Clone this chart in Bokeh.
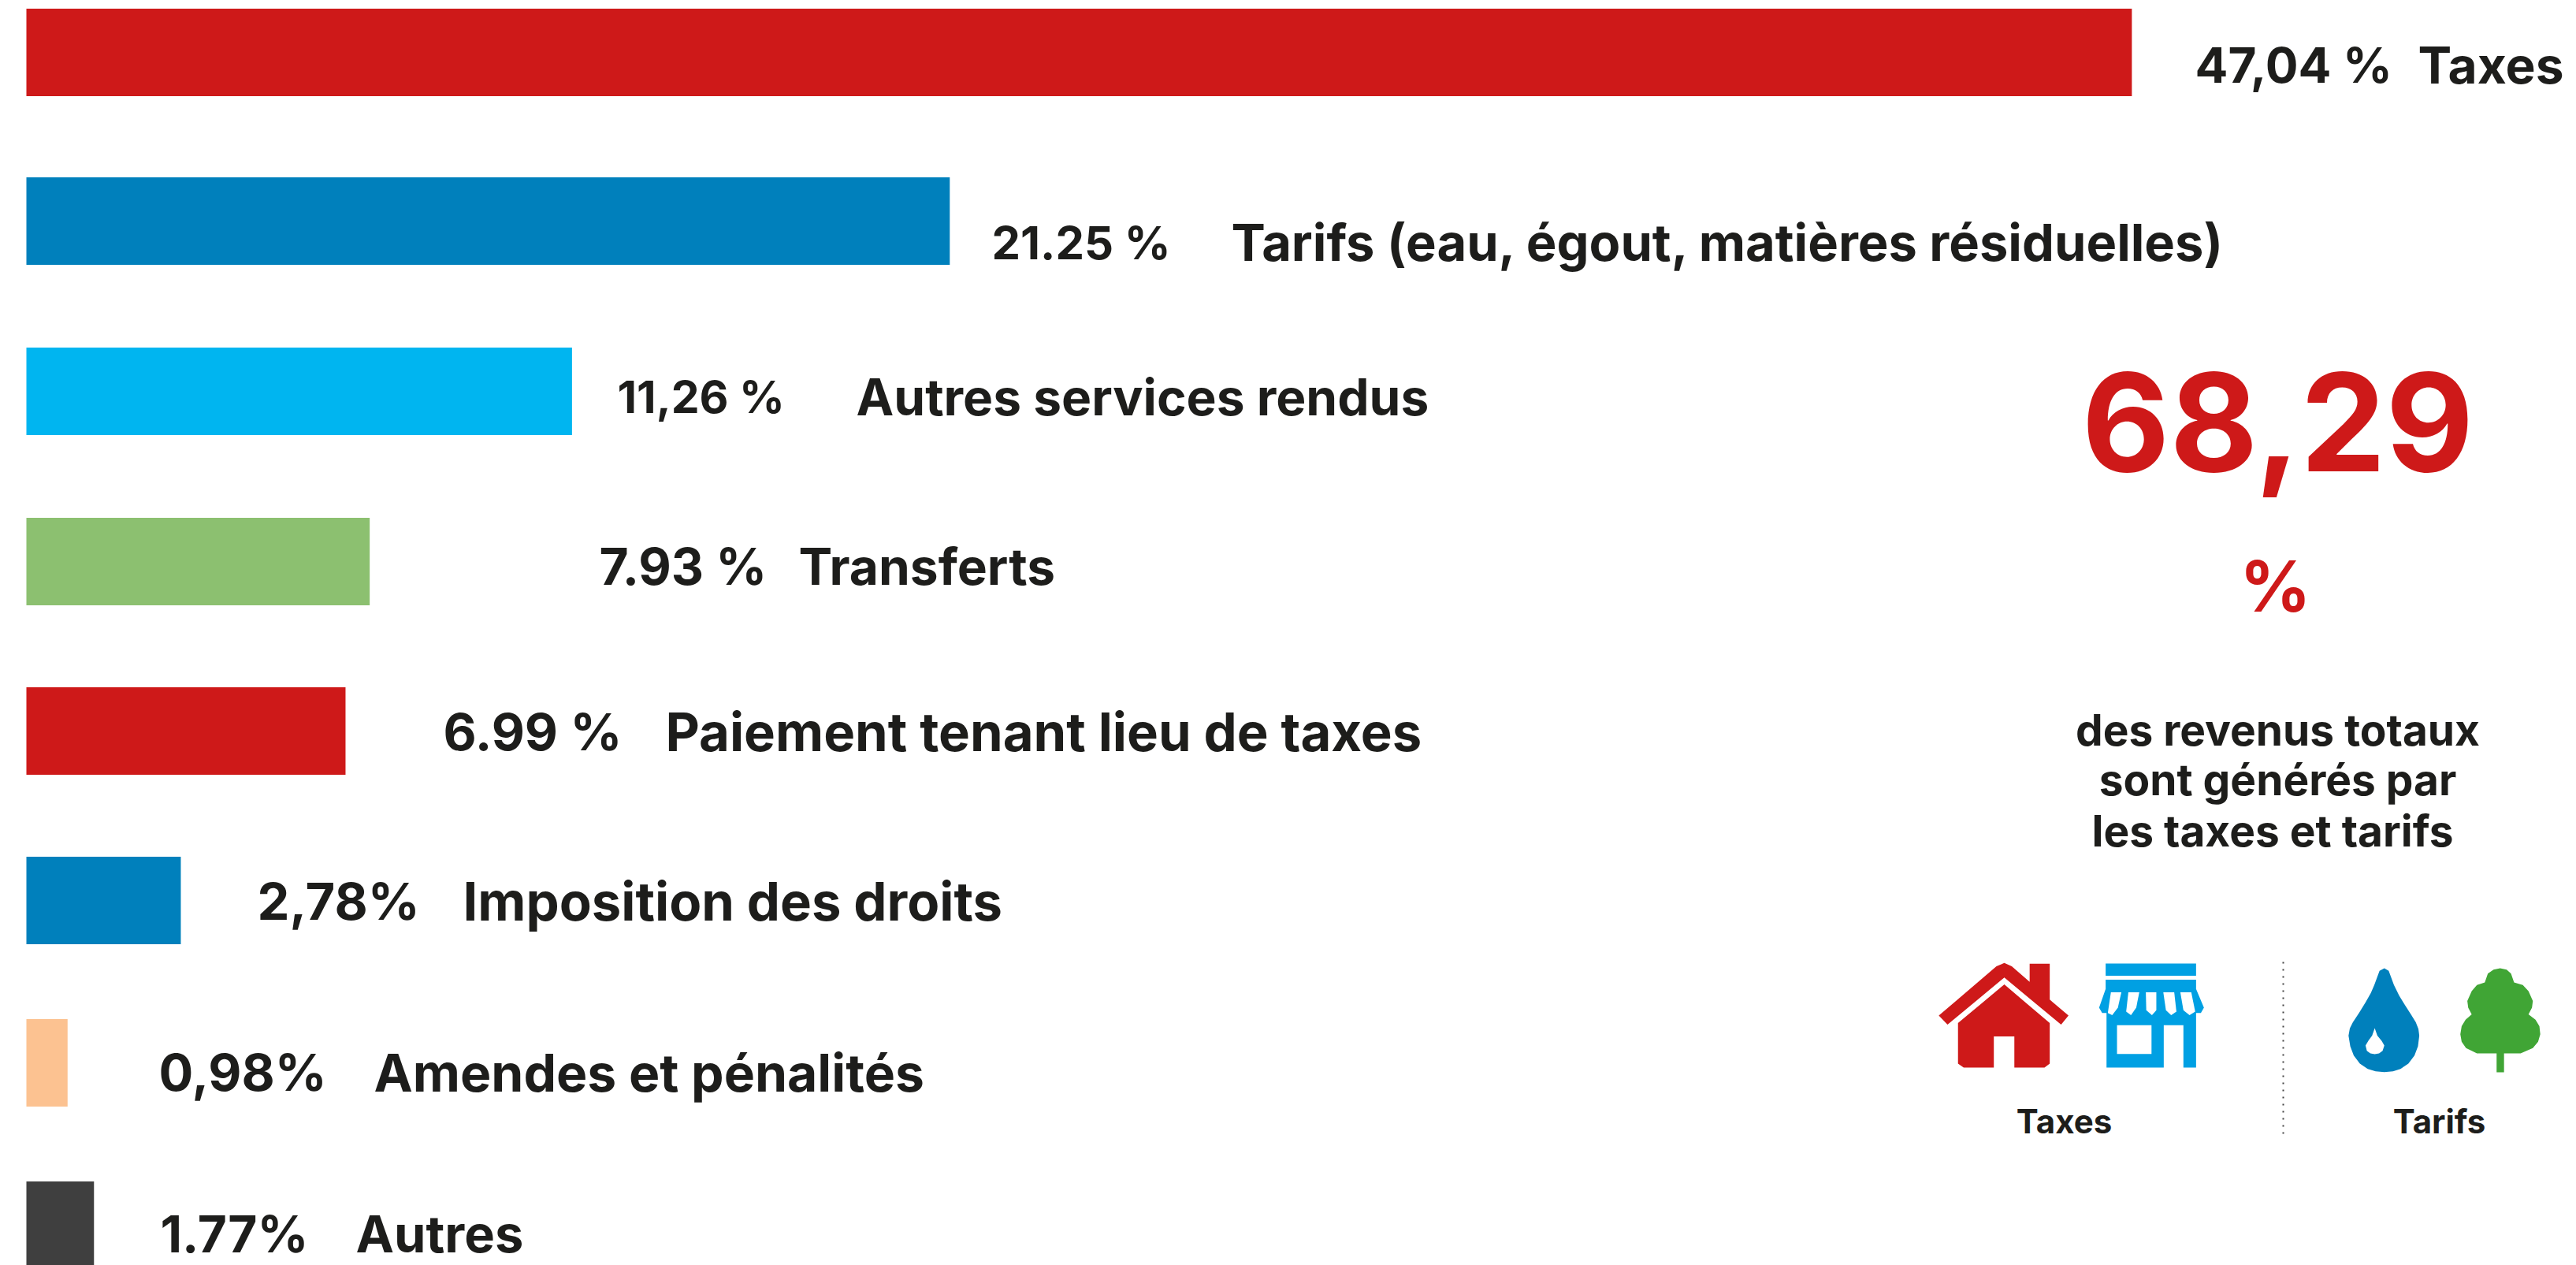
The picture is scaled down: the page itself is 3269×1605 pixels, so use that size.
from bokeh.plotting import figure
from bokeh.models import Range1d, ColumnDataSource
from bokeh.core.properties import value
from bokeh.embed import file_html
from bokeh.resources import INLINE

categories = ["Taxes", "Tarifs (eau, égout, matières résiduelles)", "Autres services rendus", "Transferts",
              "Paiement tenant lieu de taxes", "Imposition des droits", "Amendes et pénalités", "Autres"]
value_labels = ["47,04 %", "21.25 %", "11,26 %", "7.93 %", "6.99 %", "2,78%", "0,98%", "1.77%"]
# bar lengths as drawn in the picture (percent units of the longest bar)
bar_lengths = [47.04, 20.63, 12.19, 7.67, 7.13, 3.45, 0.92, 1.51]
bar_colors = ["#CE1919", "#0080BC", "#00B5F0", "#8CC070", "#CE1919", "#0080BC", "#FCC291", "#3F3F3F"]

row_y = [66, 280, 496, 712, 927, 1142, 1348, 1554]
text_y = [82, 307, 503, 718, 928, 1143, 1360, 1565]
value_x = [2785, 1258, 783, 760, 562, 326, 201, 203]
label_x = [3068, 1562, 1086, 1013, 844, 587, 474, 451]
value_size = [62, 58, 57, 64, 65, 65, 65, 64]
label_size = [64, 65, 64, 64, 67, 67, 66, 65]
FONT = "Inter"
INK = "#1D1D1B"
RED = "#CE1919"

W, H = 3269, 1605
p = figure(width=W, height=H, output_backend="svg", toolbar_location=None,
           x_range=Range1d(-33 / 56.8, (W - 33) / 56.8), y_range=Range1d(H, 0),
           min_border=0, outline_line_color=None, x_axis_location=None, y_axis_location=None)
p.grid.visible = False
p.extra_x_ranges = {"px": Range1d(0, W)}

src = ColumnDataSource(dict(y=row_y, right=bar_lengths, color=bar_colors))
p.hbar(y="y", left=0, right="right", height=111, fill_color="color", line_color=None, source=src)

def txt(x, y, s, size, color=INK, align="left"):
    p.text(x=[x], y=[y], text=[s], x_range_name="px", text_font=value(FONT), text_font_style="bold",
           text_font_size=f"{size}px", text_color=color, text_align=align, text_baseline="middle")

for i, c in enumerate(categories):
    txt(value_x[i], text_y[i], value_labels[i], value_size[i])
    txt(label_x[i], text_y[i], c, label_size[i])

txt(2890, 535, "68,29", 172, RED, "center")
txt(2887, 743, "%", 89, RED, "center")
txt(2890, 925, "des revenus totaux", 55, INK, "center")
txt(2890, 988, "sont générés par", 55, INK, "center")
txt(2890, 1053, "les  taxes et tarifs", 55, INK, "center")
txt(2619, 1422, "Taxes", 42, INK, "center")
txt(3095, 1422, "Tarifs", 42, INK, "center")

p.line([2897, 2897], [1220, 1438], x_range_name="px", line_color="#444444", line_width=2, line_dash="2 7")

def ipx(pts):
    return [2400 + a / 1.804 for a, _ in pts], [1180 + b / 2.96 for _, b in pts]

def poly(pts, color):
    xs, ys = ipx(pts)
    p.patch(xs, ys, x_range_name="px", fill_color=color, line_color=None)

poly([(258,122),(275,135),(316,193),(316,125),(362,125),(362,260),(405,320),(388,354),(258,177),(128,354),(108,320),(240,135)], RED)
poly([(258,203),(362,348),(362,500),(350,515),(281,515),(281,398),(234,398),(234,515),(165,515),(152,500),(152,348)], RED)

SHOP = "#00A0E3"
poly([(490,124),(697,124),(697,170),(490,170)], SHOP)
poly([(490,185),(697,185),(697,220),(715,290),(708,310),(697,310),(697,515),(668,515),(668,356),(623,356),(623,515),(492,515),(492,310),(482,310),(475,290),(490,220)], SHOP)
poly([(516,356),(595,356),(595,464),(516,464)], "white")
poly([(502,232),(526,232),(518,290),(505,318),(495,310)], "white")
poly([(542,232),(567,232),(560,290),(548,318),(537,305)], "white")
poly([(582,232),(606,232),(606,300),(596,318),(583,300)], "white")
poly([(622,232),(647,232),(652,305),(640,318),(628,300)], "white")
poly([(661,232),(686,232),(695,305),(682,318),(668,300)], "white")

poly([(1128,142),(1138,152),(1150,205),(1162,245),(1175,280),(1190,318),(1200,345),(1206,370),(1208,395),(1205,435),(1197,470),(1183,500),(1165,520),(1148,529),(1128,532),(1108,529),(1090,520),(1072,500),(1058,470),(1050,435),(1046,395),(1049,368),(1056,345),(1070,310),(1085,270),(1097,235),(1105,205),(1117,152)], "#0080BC")
poly([(1106,367),(1112,395),(1122,415),(1128,432),(1124,452),(1116,462),(1106,465),(1096,462),(1088,452),(1085,432),(1092,413),(1100,395)], "white")
poly([(1393,142),(1408,147),(1418,162),(1425,195),(1445,205),(1458,228),(1468,265),(1466,290),(1458,315),(1474,335),(1483,360),(1485,390),(1480,418),(1468,442),(1440,462),(1402,462),(1402,533),(1385,533),(1385,462),(1340,462),(1315,442),(1305,418),(1302,390),(1305,360),(1314,335),(1328,315),(1320,290),(1318,265),(1328,228),(1340,205),(1358,195),(1365,162),(1378,147)], "#40A535")

open("out.html", "w").write(file_html(p, INLINE))
